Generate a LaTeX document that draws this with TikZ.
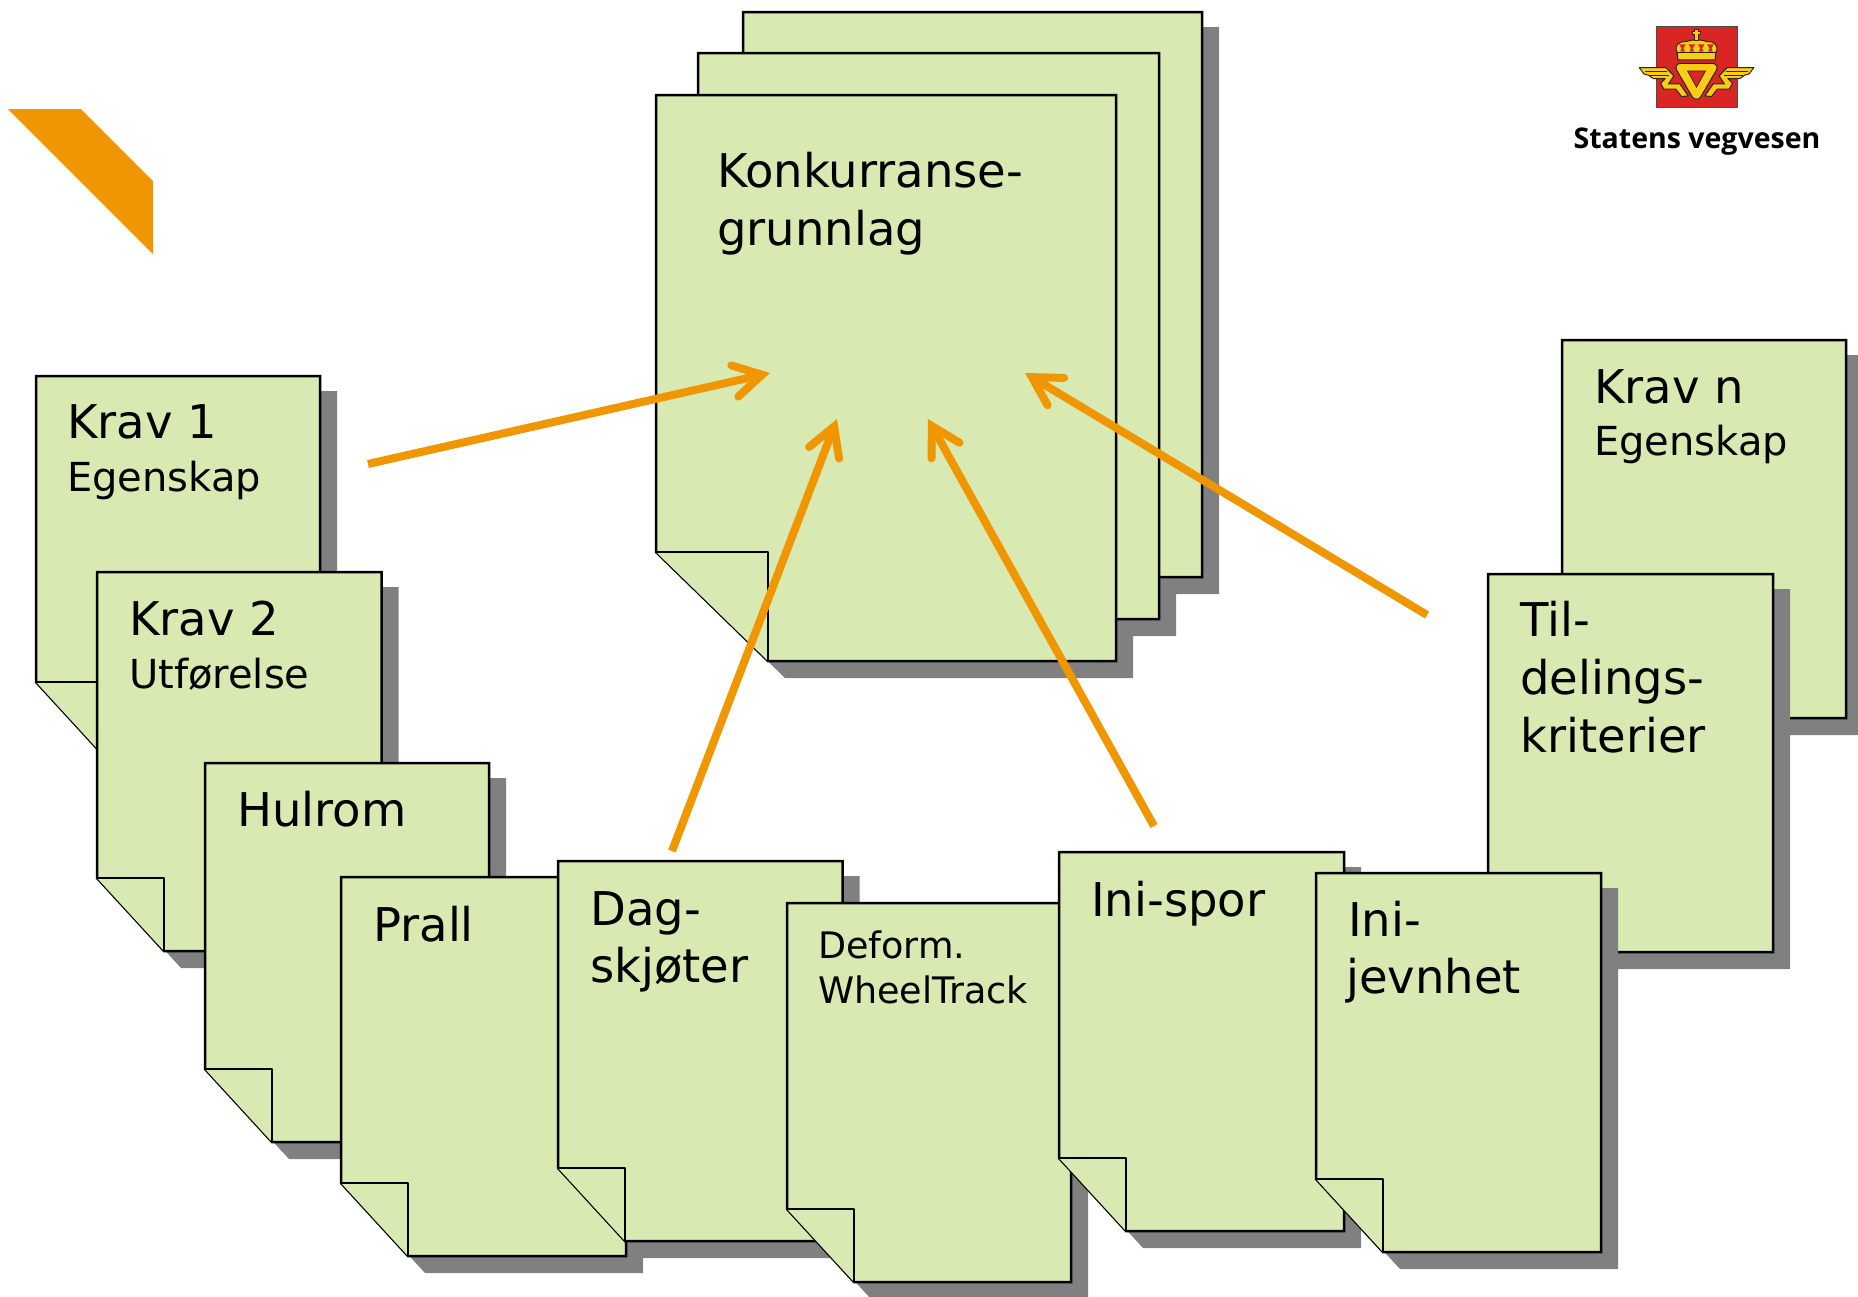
\documentclass[tikz,border=0pt]{standalone}
\usepackage{fontspec}
\setmainfont{DejaVu Sans}
\newfontfamily\logofont{Open Sans}
\usepackage{tikz}
\usetikzlibrary{arrows.meta}
\definecolor{pagegreen}{RGB}{217,233,178}
\definecolor{markorange}{RGB}{239,150,0}
\definecolor{logored}{RGB}{218,37,37}
\definecolor{logogold}{RGB}{250,205,20}
\tikzset{
  sheet/.style={draw=black, line width=2.5pt, fill=pagegreen, line join=miter},
  sheetshadow/.style={fill=black!50},
  bigtext/.style={anchor=base west, inner sep=0pt, font=\fontsize{46.5}{46.5}\selectfont},
  smalltext/.style={anchor=base west, inner sep=0pt, font=\fontsize{40}{40}\selectfont},
  tinytext/.style={anchor=base west, inner sep=0pt, font=\fontsize{36.5}{36.5}\selectfont},
  pointer/.style={draw=markorange, line width=8pt,
    -{Straight Barb[length=28pt,width=32pt,line width=8pt,line cap=round,line join=miter]},
    preaction={draw=black!60, opacity=.3, transform canvas={shift={(1.5pt,-2pt)}}}},
  logoline/.style={draw=black!85, line width=1pt, fill=logogold, line join=round}
}
% left, top, right, bottom, fold width, fold height
\newcommand{\sheetunder}[6]{
  \fill[sheetshadow] (#1+17,#2+15) -- (#3+17,#2+15) -- (#3+17,#4+17) -- (#1+#5+17,#4+17) -- (#1+17,#4-#6+17) -- cycle;
}
\newcommand{\sheetface}[6]{
  \draw[sheet] (#1,#2) -- (#3,#2) -- (#3,#4) -- (#1+#5,#4) -- (#1,#4-#6) -- cycle;
  \draw[sheet, line join=round] (#1,#4-#6) -- (#1+#5,#4-#6) -- (#1+#5,#4);
}
\newcommand{\sheetat}[6]{
  \sheetunder{#1}{#2}{#3}{#4}{#5}{#6}
  \sheetface{#1}{#2}{#3}{#4}{#5}{#6}
}
\begin{document}
\begin{tikzpicture}[x=1pt, y=-1pt]
  \clip (0,0) rectangle (1858,1296);
  \fill[white] (0,0) rectangle (1858,1296);

  % corner mark
  \fill[markorange] (8,109) -- (81,109) -- (153,181) -- (153,254) -- cycle;

  % logo
  \begin{scope}[shift={(1540,0)}, x=0.333pt, y=-0.333pt]
    \fill[logored] (348,78) rectangle (592,322);
    \draw[black!70, line width=0.8pt] (348,78) rectangle (592,322);
    \foreach \mirror/\base in {1/0, -1/940} {
      \begin{scope}[shift={(\base,0)}, xscale=\mirror]
        \draw[logoline] (298,203) -- (378,203) -- (402,228) -- (386,252) -- (420,252)
          -- (445,288) -- (425,290) -- (408,268) -- (372,268) -- (362,250) -- (376,236)
          -- (340,236) -- (326,226) -- (312,222) -- cycle;
        \draw[black!85, line width=0.7pt] (316,214) -- (380,214) (330,226) -- (388,226);
      \end{scope}
    }
    \draw[logoline] (425,190) -- (515,190) .. controls (530,190) and (535,200) .. (530,210)
      -- (482,292) .. controls (476,300) and (464,300) .. (458,292) -- (410,210)
      .. controls (405,200) and (410,190) .. (425,190) -- cycle;
    \fill[logored, draw=black!85, line width=0.7pt] (443,213) -- (497,213) -- (470,262) -- cycle;
    \draw[logoline] (414,180) -- (412,158) .. controls (400,135) and (420,122) .. (440,125)
      .. controls (455,118) and (485,118) .. (500,125) .. controls (520,122) and (540,135) .. (528,158)
      -- (526,180) -- cycle;
    \draw[black!85, line width=0.7pt] (412,158) -- (528,158);
    \foreach \cup in {428,456,484,512} {
      \fill[logored] (\cup-10,133) -- (\cup+10,133) -- (\cup+3,145) -- (\cup+7,155) -- (\cup-7,155) -- (\cup-3,145) -- cycle;
    }
    \draw[logoline] (464,122) -- (464,104) -- (458,104) -- (458,96) -- (465,96) -- (465,90) -- (475,90)
      -- (475,96) -- (482,96) -- (482,104) -- (476,104) -- (476,122) -- cycle;
  \end{scope}
  \node[anchor=base, inner sep=0pt, font=\logofont\bfseries\fontsize{28.5}{28.5}\selectfont] (logotext) at (1697,148) {Statens vegvesen};

  % stack
  \sheetunder{743}{12}{1202}{577}{112}{109}
  \sheetunder{698}{53}{1159}{619}{112}{109}
  \sheetunder{656}{95}{1116}{661}{112}{109}
  \sheetface{743}{12}{1202}{577}{112}{109}
  \sheetface{698}{53}{1159}{619}{112}{109}
  \sheetface{656}{95}{1116}{661}{112}{109}
  \node[bigtext] (konk1) at (717,187) {Konkurranse-};
  \node[bigtext] (konk2) at (717,245) {grunnlag};

  % left group
  \sheetat{36}{376}{320}{755}{67}{73}
  \node[bigtext] (krav1) at (67,438) {Krav 1};
  \node[smalltext] (krav1b) at (67,491) {Egenskap};
  \sheetat{97}{572}{381.5}{951}{67}{73}
  \node[bigtext] (krav2) at (129,635) {Krav 2};
  \node[smalltext] (krav2b) at (129,688) {Utførelse};
  \sheetat{205}{763}{489}{1142}{67}{73}
  \node[bigtext] (hulrom) at (237,826) {Hulrom};
  \sheetat{341}{877}{626}{1256}{67}{73}
  \node[bigtext] (prall) at (373,941) {Prall};
  \sheetat{558}{861}{842.5}{1241}{67}{73}
  \node[bigtext] (dag1) at (590,925) {Dag-};
  \node[bigtext] (dag2) at (590,982) {skjøter};
  \sheetat{787}{903}{1071}{1282}{67}{73}
  \node[tinytext] (def1) at (818,958) {Deform.};
  \node[tinytext] (def2) at (818,1003) {WheelTrack};

  % right group
  \sheetat{1562}{340}{1846}{718}{67}{73}
  \node[bigtext] (kravn) at (1594,403) {Krav n};
  \node[smalltext] (kravnb) at (1594,455) {Egenskap};
  \sheetat{1488}{574}{1773}{952}{67}{73}
  \node[bigtext] (til1) at (1520,636) {Til-};
  \node[bigtext] (til2) at (1520,694) {delings-};
  \node[bigtext] (til3) at (1520,752) {kriterier};
  \sheetat{1059}{852}{1344}{1231}{67}{73}
  \node[bigtext] (spor) at (1091,916) {Ini-spor};
  \sheetat{1316}{873}{1601}{1252}{67}{73}
  \node[bigtext] (jevn1) at (1348,936) {Ini-};
  \node[bigtext] (jevn2) at (1346,993) {jevnhet};

  % arrows
  \coordinate (p1s) at (368,464);
  \coordinate (p1e) at (770,373);
  \coordinate (p2s) at (672,851);
  \coordinate (p2e) at (837,419);
  \coordinate (p3s) at (1154,826);
  \coordinate (p3e) at (928,419);
  \coordinate (p4s) at (1427,615);
  \coordinate (p4e) at (1025,373);
  \draw[pointer] (p1s) -- (p1e);
  \draw[pointer] (p2s) -- (p2e);
  \draw[pointer] (p3s) -- (p3e);
  \draw[pointer] (p4s) -- (p4e);
\end{tikzpicture}
\end{document}
